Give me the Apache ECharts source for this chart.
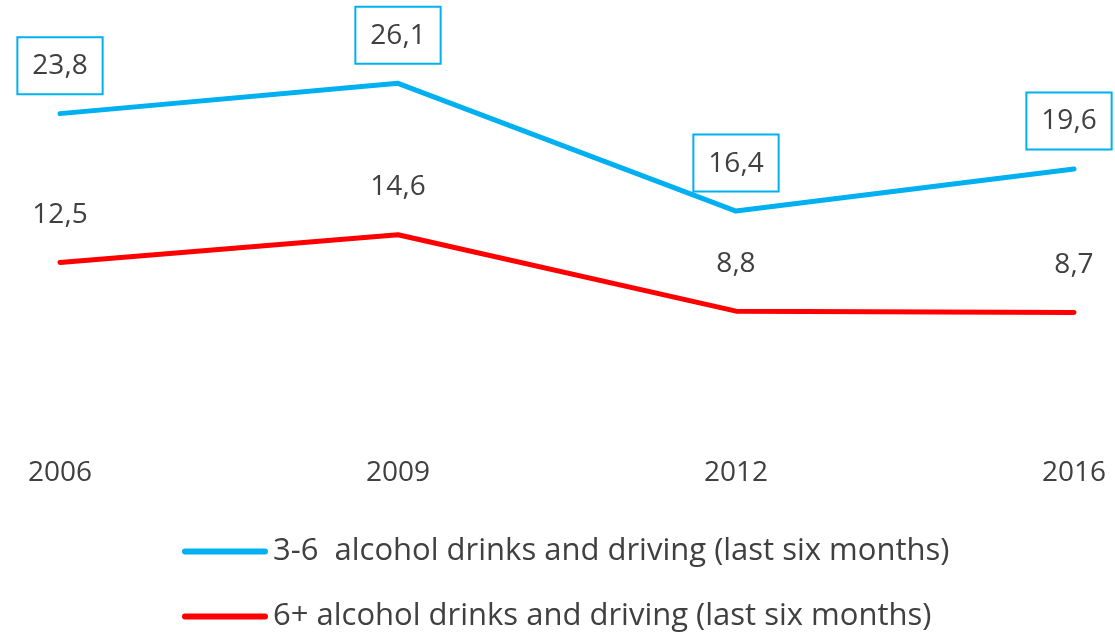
<!DOCTYPE html>
<html>
<head>
<meta charset="utf-8">
<script src="https://cdn.jsdelivr.net/npm/echarts@6/dist/echarts.min.js"></script>
<style>html,body{margin:0;padding:0;background:#fff;}#c{width:1115px;height:636px;}</style>
</head>
<body>
<div id="c"></div>
<script>
const years = ['2006', '2009', '2012', '2016'];
const seriesNames = ['3-6  alcohol drinks and driving (last six months)', '6+ alcohol drinks and driving (last six months)'];
const moderate = [23.8, 26.1, 16.4, 19.6];
const heavy = [12.5, 14.6, 8.8, 8.7];

const FONT = '"Open Sans", "Noto Sans", sans-serif';
const TEXT = '#404040';
const fmt = p => p.value.toFixed(1).replace('.', ',');
const PILL = 'path://M3,0 L83,0 A3,3 0 0 1 83,6 L3,6 A3,3 0 0 1 3,0 Z';

// keep the last boxed label inside the canvas, as in the reference
const moderateData = moderate.map((v, i) =>
  i === moderate.length - 1 ? { value: v, label: { offset: [-5, 0] } } : v);

const chart = echarts.init(document.getElementById('c'));
chart.setOption({
  backgroundColor: '#fff',
  animation: false,
  grid: { left: 60, right: 41, top: 32, bottom: 209, containLabel: false },
  xAxis: {
    type: 'category', data: years, boundaryGap: false,
    axisLine: { show: false }, axisTick: { show: false }, splitLine: { show: false },
    axisLabel: { color: TEXT, fontFamily: FONT, fontSize: 28, margin: 32 }
  },
  yAxis: { type: 'value', min: 0, max: 30, show: false, splitLine: { show: false } },
  legend: {
    orient: 'vertical', left: 182, top: 536, padding: 0,
    itemWidth: 86, itemHeight: 6, itemGap: 34,
    textStyle: { color: TEXT, fontFamily: FONT, fontSize: 31, lineHeight: 30 },
    data: [
      { name: seriesNames[0], icon: PILL },
      { name: seriesNames[1], icon: PILL }
    ]
  },
  series: [
    {
      name: seriesNames[0], type: 'line', data: moderateData,
      symbol: 'circle', symbolSize: 1,
      lineStyle: { color: '#00B0F0', width: 5, cap: 'round', join: 'round' },
      itemStyle: { color: '#00B0F0' },
      label: {
        show: true, position: 'top', distance: 20, formatter: fmt,
        color: TEXT, fontFamily: FONT, fontSize: 28, lineHeight: 32,
        borderColor: '#00B0F0', borderWidth: 2, padding: [12, 14, 11, 14], backgroundColor: '#fff'
      }
    },
    {
      name: seriesNames[1], type: 'line', data: heavy,
      symbol: 'circle', symbolSize: 1,
      lineStyle: { color: '#FF0000', width: 5, cap: 'round', join: 'round' },
      itemStyle: { color: '#FF0000' },
      label: {
        show: true, position: 'top', distance: 31, formatter: fmt,
        color: TEXT, fontFamily: FONT, fontSize: 28, lineHeight: 32
      }
    }
  ]
});
</script>
</body>
</html>
